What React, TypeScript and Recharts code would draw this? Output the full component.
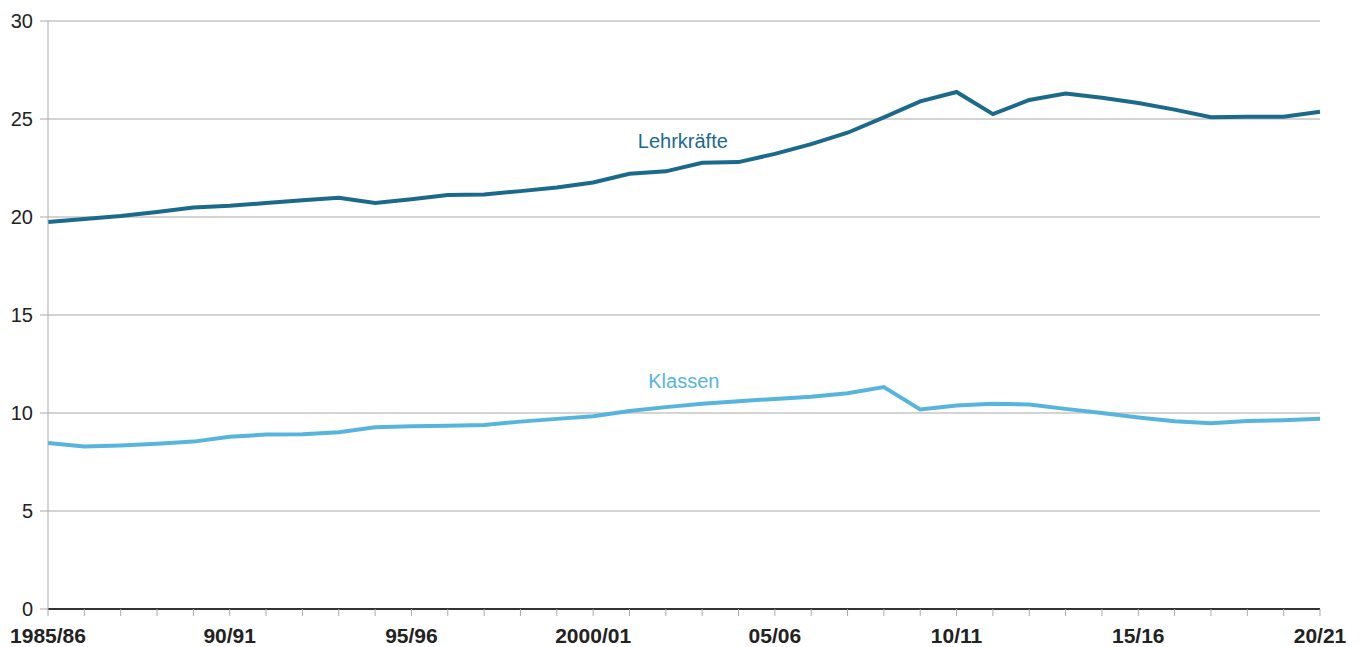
import React from "react";
import { LineChart, Line, XAxis, YAxis, CartesianGrid, LabelList } from "recharts";

const years: string[] = [
  "1985/86","86/87","87/88","88/89","89/90","90/91","91/92","92/93","93/94","94/95",
  "95/96","96/97","97/98","98/99","99/00","2000/01","01/02","02/03","03/04","04/05",
  "05/06","06/07","07/08","08/09","09/10","10/11","11/12","12/13","13/14","14/15",
  "15/16","16/17","17/18","18/19","19/20","20/21",
];

const lehrkraefte: number[] = [
  19.74, 19.9, 20.05, 20.26, 20.48, 20.57, 20.71, 20.85, 20.98, 20.72,
  20.9, 21.12, 21.15, 21.32, 21.5, 21.76, 22.21, 22.33, 22.77, 22.8,
  23.22, 23.72, 24.3, 25.08, 25.9, 26.38, 25.25, 25.97, 26.3, 26.08,
  25.82, 25.48, 25.09, 25.11, 25.12, 25.37,
];

const klassen: number[] = [
  8.47, 8.29, 8.34, 8.43, 8.54, 8.79, 8.9, 8.92, 9.02, 9.27,
  9.32, 9.35, 9.39, 9.56, 9.7, 9.84, 10.1, 10.3, 10.47, 10.6,
  10.72, 10.83, 11.01, 11.32, 10.18, 10.38, 10.47, 10.43, 10.21, 10.0,
  9.77, 9.58, 9.48, 9.59, 9.63, 9.71,
];

const shownLabels: string[] = ["1985/86", "90/91", "95/96", "2000/01", "05/06", "10/11", "15/16", "20/21"];
const yTicks: number[] = [0, 5, 10, 15, 20, 25, 30];

const seriesNames = { lehr: "Lehrkräfte", klas: "Klassen" };
const labelIndex = 17;

const data = years.map((y, i) => ({ year: y, lehr: lehrkraefte[i], klas: klassen[i] }));

const FONT = "'Liberation Sans', Arial, Helvetica, sans-serif";

const XTick = (props: any) => {
  const { x, y, payload } = props;
  if (!shownLabels.includes(payload.value)) return null;
  return (
    <text
      x={x}
      y={y}
      dy={25}
      textAnchor="middle"
      fontFamily={FONT}
      fontWeight="bold"
      fontSize={21}
      fill="#222"
    >
      {payload.value}
    </text>
  );
};

const makeSeriesLabel = (text: string, color: string, dx: number, dy: number) => (props: any) => {
  const { x, y, index } = props;
  if (index !== labelIndex) return null;
  return (
    <text
      x={x + dx}
      y={y + dy}
      textAnchor="middle"
      fontFamily={FONT}
      fontSize={20}
      fill={color}
    >
      {text}
    </text>
  );
};

export default function App() {
  const darkColor = "#1b6a8c";
  const lightColor = "#57b5dd";
  return (
    <div style={{ position: "absolute", left: 0, top: 0, background: "#fff" }}>
      <LineChart
        width={1360}
        height={647}
        data={data}
        margin={{ top: 21, right: 40, bottom: 0, left: 0 }}
      >
        <CartesianGrid vertical={false} stroke="#a9a9a9" strokeWidth={1} />
        <XAxis
          dataKey="year"
          interval={0}
          height={38}
          tickSize={7}
          tickLine={{ stroke: "#aaa" }}
          axisLine={{ stroke: "#333", strokeWidth: 2 }}
          tick={<XTick />}
        />
        <YAxis
          domain={[0, 30]}
          ticks={yTicks}
          width={48}
          tickSize={8}
          tickMargin={7}
          tickLine={{ stroke: "#aaa" }}
          axisLine={{ stroke: "#aaa" }}
          tick={{ fontFamily: FONT, fontSize: 20, fill: "#222" }}
        />
        <Line
          type="linear"
          dataKey="lehr"
          name={seriesNames.lehr}
          stroke={darkColor}
          strokeWidth={4}
          dot={false}
          isAnimationActive={false}
        >
          <LabelList dataKey="lehr" content={makeSeriesLabel(seriesNames.lehr, darkColor, 17, -23)} />
        </Line>
        <Line
          type="linear"
          dataKey="klas"
          name={seriesNames.klas}
          stroke={lightColor}
          strokeWidth={4}
          dot={false}
          isAnimationActive={false}
        >
          <LabelList dataKey="klas" content={makeSeriesLabel(seriesNames.klas, lightColor, 18, -19)} />
        </Line>
      </LineChart>
    </div>
  );
}
